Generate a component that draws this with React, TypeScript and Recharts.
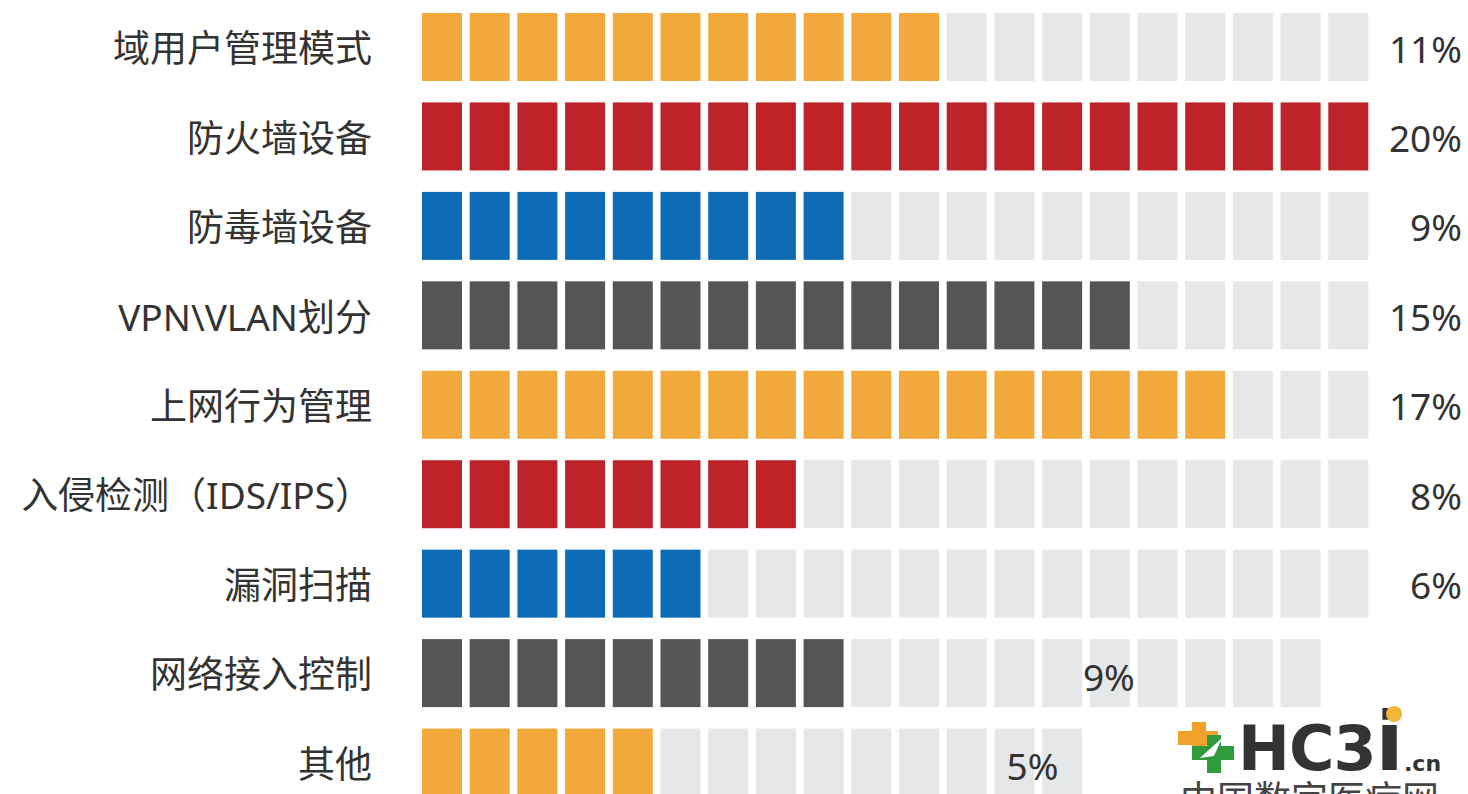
import { Bar, BarChart, LabelList, XAxis, YAxis } from "recharts";

// 各行の項目名・占比（1ブロック = 1%）・ブロック総数
const categories = [
	"域用户管理模式",
	"防火墙设备",
	"防毒墙设备",
	"VPN\\VLAN划分",
	"上网行为管理",
	"入侵检测（IDS/IPS）",
	"漏洞扫描",
	"网络接入控制",
	"其他",
];
const sharePercent = [11, 20, 9, 15, 17, 8, 6, 9, 5];
const blockTotals = [20, 20, 20, 20, 20, 20, 20, 19, 14];
const valueLabels = ["11%", "20%", "9%", "15%", "17%", "8%", "6%", "9%", "5%"];

const ROW_COLORS = ["#F2A93B", "#BD2328", "#0E6CB6", "#545556"];
const EMPTY_COLOR = "#E6E7E8";
const TEXT_COLOR = "#333333";
const BLOCK_GAP = 7.7;
const MAX_BLOCKS = 20;
const FONT = "'Noto Sans', 'Noto Sans CJK SC', sans-serif";

// 8・9 行目のラベルはロゴを避けて内側に置かれている（ブロック単位の中心位置）
const LABEL_CENTER_OVERRIDE: Record<number, number> = { 7: 14.4, 8: 12.8 };

const data = categories.map((name, i) => ({
	name,
	filled: sharePercent[i],
	rest: blockTotals[i] - sharePercent[i],
}));

interface BlockProps {
	x?: number;
	y?: number;
	width?: number;
	height?: number;
	count: number;
	fill: string;
}

function BlockRow({ x = 0, y = 0, width = 0, height = 0, count, fill }: BlockProps) {
	if (!count || width <= 0) return null;
	const unit = width / count;
	return (
		<g>
			{Array.from({ length: count }, (_, i) => (
				<rect
					key={i}
					x={x + i * unit}
					y={y}
					width={unit - BLOCK_GAP}
					height={height}
					fill={fill}
				/>
			))}
		</g>
	);
}

function CategoryTick(props: any) {
	const { x, y, payload } = props;
	return (
		<text
			x={x}
			y={y}
			dy={1}
			textAnchor="end"
			dominantBaseline="central"
			fontSize={37}
			fontFamily={FONT}
			fill={TEXT_COLOR}
		>
			{payload.value}
		</text>
	);
}

function PercentLabel(props: any) {
	const { x, y, width, height, index } = props;
	const unit = width / sharePercent[index];
	const override = LABEL_CENTER_OVERRIDE[index];
	const cy = y + height / 2 + 1;
	if (override !== undefined) {
		return (
			<text
				x={x + override * unit}
				y={cy + 2}
				textAnchor="middle"
				dominantBaseline="central"
				fontSize={37}
				fontFamily={FONT}
				fill={TEXT_COLOR}
			>
				{valueLabels[index]}
			</text>
		);
	}
	return (
		<text
			x={x + MAX_BLOCKS * unit + 86}
			y={cy}
			textAnchor="end"
			dominantBaseline="central"
			fontSize={37}
			fontFamily={FONT}
			fill={TEXT_COLOR}
		>
			{valueLabels[index]}
		</text>
	);
}

function Logo() {
	return (
		<svg
			width={1468}
			height={794}
			style={{ position: "absolute", left: 0, top: 0, pointerEvents: "none" }}
		>
			{/* オレンジの十字 */}
			<rect x={1178} y={731} width={40} height={14} fill="#F2A12B" />
			<rect x={1192} y={722} width={14} height={30} fill="#F2A12B" />
			{/* 緑の十字 */}
			<rect x={1192} y={746} width={42} height={14} fill="#2F9B3C" />
			<rect x={1207} y={735} width={14} height={38} fill="#2F9B3C" />
			<path d="M1200 758 L1222 738 L1214 756 Z" fill="#ffffff" />
			<text
				x={1238}
				y={770}
				fontSize={62}
				fontWeight="bold"
				fontFamily="'DejaVu Sans', sans-serif"
				fill="#333333"
				letterSpacing={-1}
			>
				HC3<tspan fontSize={82}>i</tspan>
			</text>
			<circle cx={1394} cy={714} r={8} fill="#F2B53A" />
			<text
				x={1404}
				y={771}
				fontSize={22}
				fontWeight="bold"
				fontFamily="'DejaVu Sans', sans-serif"
				fill="#333333"
			>
				.cn
			</text>
			<text
				x={1180}
				y={813}
				fontSize={37}
				fontFamily="'Noto Sans CJK SC', sans-serif"
				fill="#444444"
			>
				中国数字医疗网
			</text>
		</svg>
	);
}

export default function App() {
	return (
		<div
			style={{
				position: "fixed",
				left: 0,
				top: 0,
				width: 1468,
				height: 794,
				overflow: "hidden",
				background: "#ffffff",
			}}
		>
			<BarChart
				width={1468}
				height={807}
				data={data}
				layout="vertical"
				margin={{ top: 2, right: 92, left: 0, bottom: 0 }}
				barSize={68}
				accessibilityLayer={false}
			>
				<XAxis type="number" domain={[0, MAX_BLOCKS]} hide />
				<YAxis
					type="category"
					dataKey="name"
					width={422}
					axisLine={false}
					tickLine={false}
					tickSize={0}
					tickMargin={50}
					interval={0}
					tick={<CategoryTick />}
				/>
				<Bar
					dataKey="filled"
					stackId="row"
					isAnimationActive={false}
					shape={(p: any) => (
						<BlockRow
							{...p}
							count={p.payload.filled}
							fill={ROW_COLORS[p.index % ROW_COLORS.length]}
						/>
					)}
				>
					<LabelList dataKey="filled" content={<PercentLabel />} />
				</Bar>
				<Bar
					dataKey="rest"
					stackId="row"
					isAnimationActive={false}
					shape={(p: any) => (
						<BlockRow {...p} count={p.payload.rest} fill={EMPTY_COLOR} />
					)}
				/>
			</BarChart>
			<Logo />
		</div>
	);
}
